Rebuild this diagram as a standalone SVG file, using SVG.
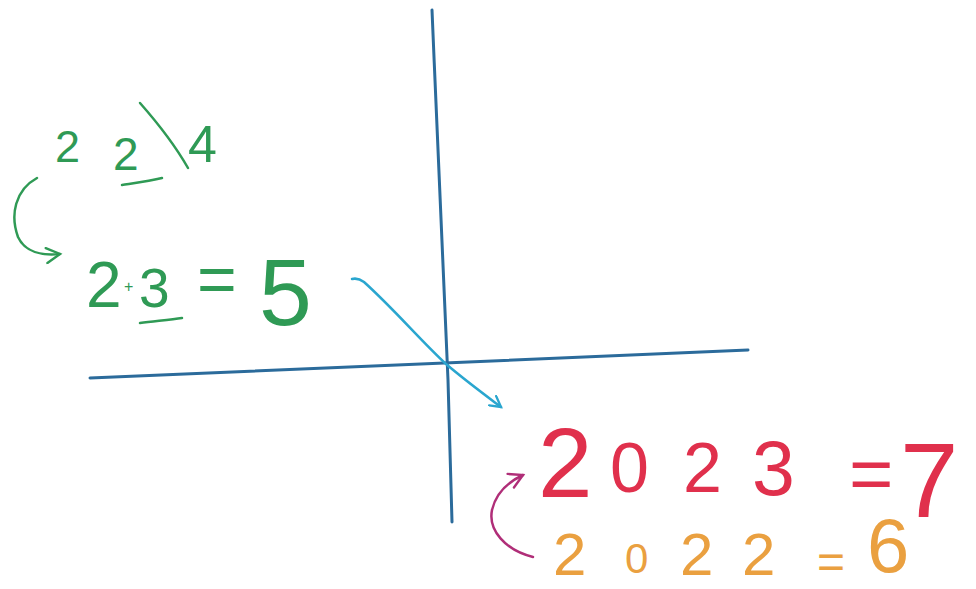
<svg xmlns="http://www.w3.org/2000/svg" width="976" height="589" viewBox="0 0 976 589">
<style>
.t{font-family:"Liberation Sans",Arial,sans-serif}
.g{fill:#2f9a55}
.r{fill:#e0304c}
.o{fill:#eaa040}
.ln{fill:none;stroke-linecap:round;stroke-linejoin:round}
</style>
<defs>
<marker id="ah-cyan" viewBox="0 0 12 12" refX="10" refY="6" markerWidth="14" markerHeight="14" markerUnits="userSpaceOnUse" orient="auto">
<path d="M1 1 L10 6 L1 11" fill="none" stroke="#2aa6cf" stroke-width="2" stroke-linecap="round"/>
</marker>
<marker id="ah-green" viewBox="0 0 12 12" refX="10" refY="6" markerWidth="18" markerHeight="18" markerUnits="userSpaceOnUse" orient="auto">
<path d="M1 1 L10 6 L1 11" fill="none" stroke="#2f9a55" stroke-width="1.6" stroke-linecap="round"/>
</marker>
<marker id="ah-mag" viewBox="0 0 12 12" refX="10" refY="6" markerWidth="18" markerHeight="18" markerUnits="userSpaceOnUse" orient="auto">
<path d="M1 1 L10 6 L1 11" fill="none" stroke="#b02e78" stroke-width="1.6" stroke-linecap="round"/>
</marker>
</defs>
<rect width="976" height="589" fill="#ffffff"/>
<g id="connectors">
<path id="y-axis" class="ln" d="M432 10 C438 150 444 300 448 380 C450 440 451 490 452 522" stroke="#2b6b9b" stroke-width="3"/>
<path id="x-axis" class="ln" d="M90 378 C250 371 450 364 748 350" stroke="#2b6b9b" stroke-width="3"/>
<path id="diag-arrow" class="ln" d="M352 279 C356 278 360 279 364 282 C395 310 420 340 446 364 C466 381 485 395 501 407" stroke="#2aa6cf" stroke-width="2.5" marker-end="url(#ah-cyan)"/>
<path id="green-loop" class="ln" d="M37 178 C15 190 10 215 18 237 C25 252 42 256 60 254" stroke="#2f9a55" stroke-width="2.5" marker-end="url(#ah-green)"/>
<path id="magenta-loop" class="ln" d="M533 557 C505 550 488 530 492 510 C496 493 508 482 523 475" stroke="#b02e78" stroke-width="2.5" marker-end="url(#ah-mag)"/>
</g>
<g id="node-224">
<text class="t g" x="55" y="162" font-size="45">2</text>
<text class="t g" x="113" y="170" font-size="46">2</text>
<path class="ln" d="M122 185 C135 183 150 181 162 178" stroke="#2f9a55" stroke-width="2.5"/>
<path class="ln" d="M140 103 C155 120 172 140 188 168" stroke="#2f9a55" stroke-width="2.5"/>
<text class="t g" x="188" y="162" font-size="52">4</text>
</g>
<g id="node-235">
<text class="t g" x="86" y="307" font-size="64">2</text>
<text class="t g" x="124" y="292" font-size="16">+</text>
<text class="t g" x="139" y="307" font-size="55">3</text>
<path class="ln" d="M140 323 C155 321 170 320 182 318" stroke="#2f9a55" stroke-width="2.5"/>
<text class="t g" x="197" y="303" font-size="68">=</text>
<text class="t g" x="259" y="325" font-size="95">5</text>
</g>
<g id="node-2023">
<text class="t r" x="538" y="497" font-size="98">2</text>
<text class="t r" x="610" y="492" font-size="70">0</text>
<text class="t r" x="683" y="492" font-size="70">2</text>
<text class="t r" x="752" y="495" font-size="77">3</text>
<text class="t r" x="849" y="500" font-size="76">=</text>
<text class="t r" x="900" y="517" font-size="105">7</text>
</g>
<g id="node-2022">
<text class="t o" x="553" y="575" font-size="60">2</text>
<text class="t o" x="625" y="573" font-size="42">0</text>
<text class="t o" x="680" y="575" font-size="60">2</text>
<text class="t o" x="742" y="575" font-size="60">2</text>
<text class="t o" x="817" y="578" font-size="48">=</text>
<text class="t o" x="867" y="572" font-size="76">6</text>
</g>
</svg>
